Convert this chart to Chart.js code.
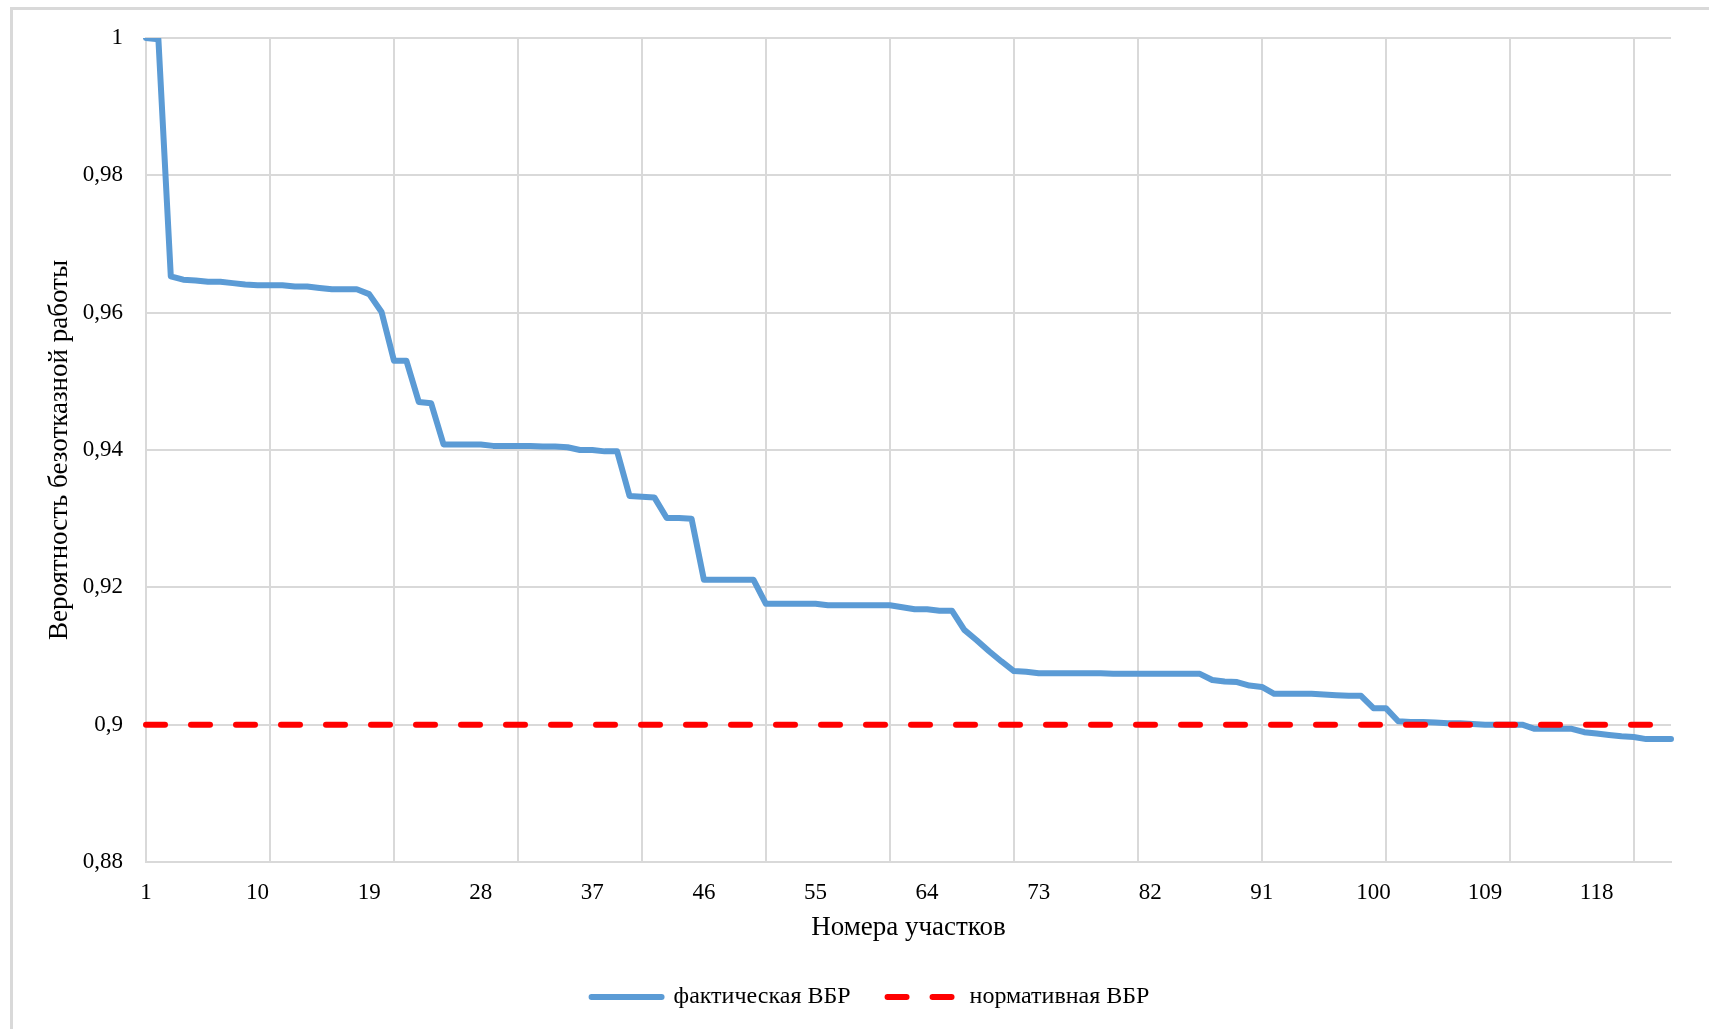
<!DOCTYPE html>
<html>
<head>
<meta charset="utf-8">
<script src="https://cdn.jsdelivr.net/npm/chart.js@4.4.1/dist/chart.umd.min.js"></script>
<style>
html,body{margin:0;padding:0;background:#fff;overflow:hidden;}
#frame{position:absolute;left:10px;top:7px;width:1720px;height:1040px;border:3px solid #d9d9d9;box-sizing:border-box;}
#c{position:absolute;left:0;top:0;}
</style>
</head>
<body>
<div id="frame"></div>
<canvas id="c" width="1709" height="1029"></canvas>
<script>
const categories = [
  '1','2','3','4','5','6','7','8','9','10','11','12','13','14','15','16','17','18','19','20',
  '21','22','23','24','25','26','27','28','29','30','31','32','33','34','35','36','37','38','39','40',
  '41','42','43','44','45','46','47','48','49','50','51','52','53','54','55','56','57','58','59','60',
  '61','62','63','64','65','66','67','68','69','70','71','72','73','74','75','76','77','78','79','80',
  '81','82','83','84','85','86','87','88','89','90','91','92','93','94','95','96','97','98','99','100',
  '101','102','103','104','105','106','107','108','109','110','111','112','113','114','115','116','117','118','119','120',
  '121','122','123','124'
];

const actualValues = [
  1.0000, 0.9998, 0.9653, 0.9648, 0.9647, 0.9645, 0.9645, 0.9643, 0.9641, 0.9640,
  0.9640, 0.9640, 0.9638, 0.9638, 0.9636, 0.9634, 0.9634, 0.9634, 0.9627, 0.9601,
  0.9530, 0.9530, 0.9470, 0.9468, 0.9408, 0.9408, 0.9408, 0.9408, 0.9406, 0.9406,
  0.9406, 0.9406, 0.9405, 0.9405, 0.9404, 0.9400, 0.9400, 0.9398, 0.9398, 0.9333,
  0.9332, 0.9331, 0.9301, 0.9301, 0.9300, 0.9211, 0.9211, 0.9211, 0.9211, 0.9211,
  0.9176, 0.9176, 0.9176, 0.9176, 0.9176, 0.9174, 0.9174, 0.9174, 0.9174, 0.9174,
  0.9174, 0.9171, 0.9168, 0.9168, 0.9166, 0.9166, 0.9138, 0.9123, 0.9107, 0.9092,
  0.9078, 0.9077, 0.9075, 0.9075, 0.9075, 0.9075, 0.9075, 0.9075, 0.9074, 0.9074,
  0.9074, 0.9074, 0.9074, 0.9074, 0.9074, 0.9074, 0.9065, 0.9063, 0.9062, 0.9057,
  0.9055, 0.9045, 0.9045, 0.9045, 0.9045, 0.9044, 0.9043, 0.9042, 0.9042, 0.9024,
  0.9024, 0.9005, 0.9004, 0.9004, 0.9003, 0.9002, 0.9002, 0.9001, 0.9000, 0.9000,
  0.9000, 0.9000, 0.8994, 0.8994, 0.8994, 0.8994, 0.8989, 0.8987, 0.8985, 0.8983,
  0.8982, 0.8979, 0.8979, 0.8979
];

const normValues = [
  0.9, 0.9, 0.9, 0.9, 0.9, 0.9, 0.9, 0.9, 0.9, 0.9,
  0.9, 0.9, 0.9, 0.9, 0.9, 0.9, 0.9, 0.9, 0.9, 0.9,
  0.9, 0.9, 0.9, 0.9, 0.9, 0.9, 0.9, 0.9, 0.9, 0.9,
  0.9, 0.9, 0.9, 0.9, 0.9, 0.9, 0.9, 0.9, 0.9, 0.9,
  0.9, 0.9, 0.9, 0.9, 0.9, 0.9, 0.9, 0.9, 0.9, 0.9,
  0.9, 0.9, 0.9, 0.9, 0.9, 0.9, 0.9, 0.9, 0.9, 0.9,
  0.9, 0.9, 0.9, 0.9, 0.9, 0.9, 0.9, 0.9, 0.9, 0.9,
  0.9, 0.9, 0.9, 0.9, 0.9, 0.9, 0.9, 0.9, 0.9, 0.9,
  0.9, 0.9, 0.9, 0.9, 0.9, 0.9, 0.9, 0.9, 0.9, 0.9,
  0.9, 0.9, 0.9, 0.9, 0.9, 0.9, 0.9, 0.9, 0.9, 0.9,
  0.9, 0.9, 0.9, 0.9, 0.9, 0.9, 0.9, 0.9, 0.9, 0.9,
  0.9, 0.9, 0.9, 0.9, 0.9, 0.9, 0.9, 0.9, 0.9, 0.9,
  0.9, 0.9, 0.9, 0.9
];

const xTickLabels = ['1','10','19','28','37','46','55','64','73','82','91','100','109','118'];
const xGridCategories = ['1','11','21','31','41','51','61','71','81','91','101','111','121'];
const yTicks = [0.88, 0.9, 0.92, 0.94, 0.96, 0.98, 1];

const seriesNames = ['фактическая ВБР', 'нормативная ВБР'];
const xTitle = 'Номера участков';
const yTitle = 'Вероятность безотказной работы';

const FONT = "'Liberation Serif', 'Times New Roman', serif";
const GRID = '#d9d9d9';

new Chart(document.getElementById('c'), {
  type: 'line',
  data: {
    labels: categories,
    datasets: [
      {
        label: seriesNames[0],
        data: actualValues,
        borderColor: '#5b9bd5',
        backgroundColor: '#5b9bd5',
        borderWidth: 6,
        pointRadius: 0,
        tension: 0,
        borderJoinStyle: 'round',
        borderCapStyle: 'round',
        order: 2
      },
      {
        label: seriesNames[1],
        data: normValues,
        borderColor: '#ff0000',
        backgroundColor: '#ff0000',
        borderWidth: 6,
        pointRadius: 0,
        tension: 0,
        borderDash: [19, 26],
        borderCapStyle: 'round',
        order: 1
      }
    ]
  },
  options: {
    responsive: false,
    animation: false,
    devicePixelRatio: 1,
    layout: { padding: { left: 70, right: 38, top: 38, bottom: 10 } },
    plugins: {
      tooltip: { enabled: false },
      legend: {
        position: 'bottom',
        labels: {
          usePointStyle: true,
          pointStyle: 'line',
          pointStyleWidth: 70,
          padding: 37,
          color: '#000',
          font: { family: FONT, size: 24 },
          sort: (a, b) => a.datasetIndex - b.datasetIndex,
          generateLabels: chart => {
            const items = Chart.defaults.plugins.legend.labels.generateLabels(chart);
            items.forEach(it => {
              const ds = chart.data.datasets[it.datasetIndex];
              it.lineDash = ds.borderDash || [];
              it.lineWidth = ds.borderWidth;
              it.strokeStyle = ds.borderColor;
              it.fillStyle = ds.borderColor;
              it.lineCap = ds.borderCapStyle || 'butt';
              it.pointStyle = 'line';
            });
            return items;
          }
        }
      }
    },
    scales: {
      x: {
        grid: {
          color: c => (c.index !== undefined && xGridCategories.includes(categories[c.index])) ? GRID : 'rgba(0,0,0,0)',
          lineWidth: 2,
          drawTicks: false
        },
        border: { display: true, color: GRID, width: 2 },
        ticks: {
          autoSkip: false,
          maxRotation: 0,
          minRotation: 0,
          padding: 17,
          color: '#000',
          font: { family: FONT, size: 23 },
          callback: function (v) {
            const l = this.getLabelForValue(v);
            return xTickLabels.includes(l) ? l : '';
          }
        },
        title: {
          display: true,
          text: xTitle,
          color: '#000',
          font: { family: FONT, size: 27 },
          padding: { top: 0, bottom: 4.2 }
        },
        afterFit: s => { s.height = 86; }
      },
      y: {
        min: 0.88,
        max: 1,
        afterBuildTicks: s => { s.ticks = yTicks.map(v => ({ value: v })); },
        grid: { color: GRID, lineWidth: 2, drawTicks: false },
        border: { display: true, color: GRID, width: 2 },
        ticks: {
          padding: 23,
          color: '#000',
          font: { family: FONT, size: 23 },
          callback: v => String(parseFloat(Number(v).toFixed(2))).replace('.', ',')
        },
        title: {
          display: true,
          text: yTitle,
          color: '#000',
          font: { family: FONT, size: 27 },
          padding: { top: -26.2, bottom: 0 }
        },
        afterFit: s => { s.width = 76; }
      }
    }
  }
});
</script>
</body>
</html>
